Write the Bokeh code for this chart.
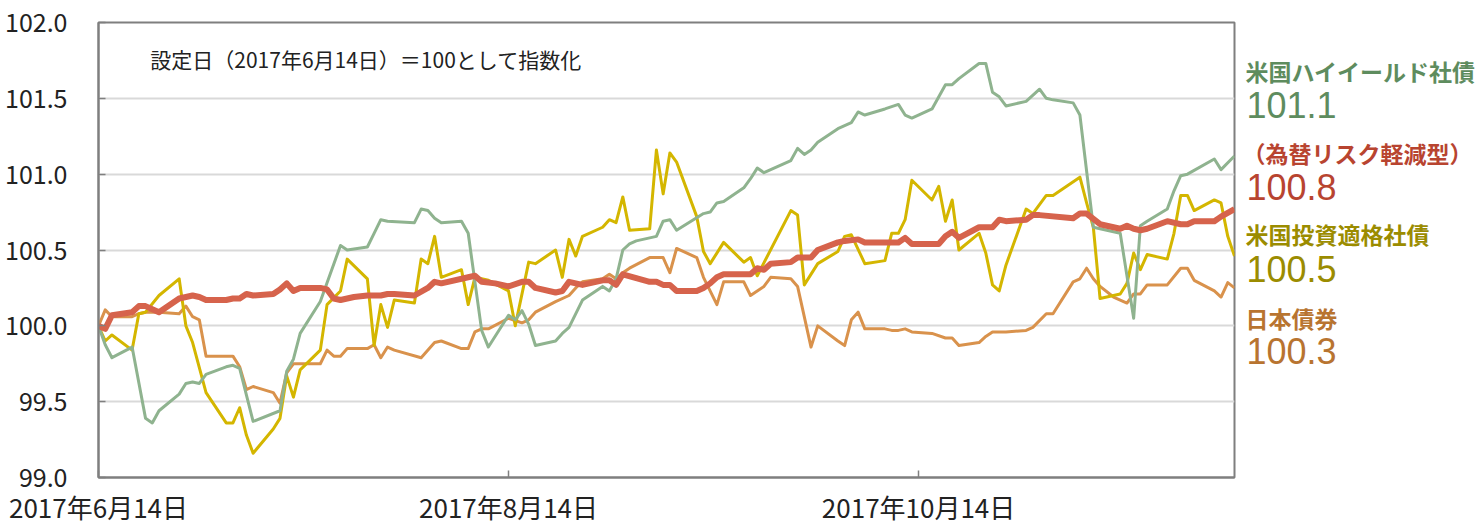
import pandas as pd
from bokeh.plotting import figure
from bokeh.layouts import row
from bokeh.models import Range1d, FixedTicker, CustomJSTickFormatter, PrintfTickFormatter, Label
from bokeh.embed import file_html
from bokeh.resources import INLINE

# ---------------- data ----------------
base_date = "2017-06-14"
end_date = "2017-11-30"

tick_dates = ["2017-06-14", "2017-08-14", "2017-10-14"]
tick_labels = ["2017年6月14日", "2017年8月14日", "2017年10月14日"]
y_ticks = [99.0, 99.5, 100.0, 100.5, 101.0, 101.5, 102.0]

series_names = ["米国ハイイールド社債", "（為替リスク軽減型）", "米国投資適格社債", "日本債券"]
series_last = ["101.1", "100.8", "100.5", "100.3"]
note_text = "設定日（2017年6月14日）＝100として指数化"

# 米国ハイイールド社債 (days since base date, index)
hy_days = [0, 1, 2, 5, 7, 8, 9, 12, 13, 14, 15, 16, 19, 20, 21, 23, 27, 28, 29, 30,
           33, 36, 37, 40, 41, 42, 43, 47, 48, 49, 50, 51, 54, 55, 57, 58, 61, 62, 63, 64,
           65, 68, 69, 70, 72, 75, 76, 77, 78, 79, 80, 83, 84, 85, 86, 90, 91, 92, 93, 96,
           97, 98, 99, 103, 104, 105, 106, 107, 110, 112, 113, 114, 117, 119, 120, 121, 124, 126, 127, 128,
           131, 132, 133, 134, 135, 138, 140, 141, 142, 145, 146, 148, 152, 154, 155, 156, 159, 160, 161, 162,
           166, 167, 169]
hy_vals = [100.0, 99.875, 99.79, 99.86, 99.39, 99.36, 99.44, 99.55, 99.62, 99.63, 99.62, 99.68, 99.73, 99.74, 99.72, 99.37, 99.44, 99.70, 99.78, 99.95,
           100.16, 100.53, 100.50, 100.52, 100.61, 100.70, 100.69, 100.68, 100.77, 100.76, 100.71, 100.68, 100.69, 100.61, 99.97, 99.86, 100.07, 100.04, 100.10, 100.01,
           99.87, 99.90, 99.95, 99.99, 100.17, 100.26, 100.23, 100.31, 100.50, 100.54, 100.56, 100.59, 100.69, 100.70, 100.63, 100.74, 100.75, 100.81, 100.82, 100.91,
           100.97, 101.04, 101.01, 101.09, 101.17, 101.13, 101.16, 101.21, 101.30, 101.34, 101.41, 101.39, 101.43, 101.46, 101.39, 101.37, 101.43, 101.59, 101.59, 101.63,
           101.73, 101.73, 101.54, 101.51, 101.45, 101.48, 101.56, 101.50, 101.49, 101.47, 101.39, 100.65, 100.61, 100.05, 100.66, 100.69, 100.77, 100.89, 100.99, 101.00,
           101.10, 101.03, 101.12]

# （為替リスク軽減型）
hedged_days = [0, 1, 2, 5, 6, 7, 8, 9, 12, 14, 15, 16, 19, 20, 21, 22, 23, 26, 27, 28,
               29, 30, 33, 34, 35, 36, 38, 40, 42, 43, 44, 47, 49, 50, 51, 55, 56, 57, 59, 61,
               63, 64, 65, 68, 69, 70, 72, 75, 76, 77, 78, 82, 83, 84, 85, 86, 89, 90, 91, 92,
               93, 97, 98, 99, 100, 103, 104, 106, 107, 110, 111, 113, 114, 119, 120, 121, 125, 126, 127, 128,
               131, 133, 134, 135, 138, 139, 140, 145, 146, 147, 149, 152, 153, 154, 155, 156, 159, 161, 162, 163,
               166, 167, 169]
hedged_vals = [100.0, 99.98, 100.07, 100.09, 100.13, 100.13, 100.11, 100.09, 100.18, 100.20, 100.19, 100.17, 100.17, 100.18, 100.18, 100.21, 100.20, 100.21, 100.24, 100.28,
               100.23, 100.25, 100.25, 100.24, 100.18, 100.17, 100.19, 100.20, 100.20, 100.21, 100.21, 100.20, 100.25, 100.29, 100.28, 100.32, 100.33, 100.29, 100.28, 100.26,
               100.29, 100.29, 100.25, 100.22, 100.23, 100.29, 100.27, 100.30, 100.30, 100.27, 100.34, 100.29, 100.29, 100.27, 100.27, 100.23, 100.23, 100.25, 100.28, 100.32,
               100.34, 100.34, 100.38, 100.37, 100.41, 100.42, 100.45, 100.45, 100.50, 100.55, 100.56, 100.57, 100.55, 100.55, 100.58, 100.54, 100.54, 100.59, 100.62, 100.58,
               100.65, 100.65, 100.70, 100.69, 100.70, 100.73, 100.73, 100.71, 100.74, 100.74, 100.67, 100.64, 100.66, 100.64, 100.63, 100.64, 100.69, 100.67, 100.67, 100.69,
               100.69, 100.72, 100.77]

# 米国投資適格社債
ig_days = [0, 1, 2, 5, 6, 7, 9, 12, 13, 14, 16, 19, 20, 21, 22, 23, 26, 27, 28, 29,
           30, 33, 34, 36, 37, 40, 41, 42, 43, 44, 47, 48, 49, 50, 51, 54, 55, 56, 58, 61,
           62, 64, 65, 68, 69, 70, 71, 72, 75, 76, 77, 78, 79, 82, 83, 84, 85, 86, 89, 90,
           91, 93, 96, 97, 98, 103, 104, 105, 107, 110, 111, 112, 114, 117, 118, 119, 120, 121, 124, 125,
           126, 127, 128, 131, 132, 133, 134, 135, 138, 139, 141, 142, 146, 147, 148, 149, 152, 153, 154, 155,
           156, 159, 160, 161, 162, 163, 166, 167, 168, 169]
ig_vals = [100.0, 99.90, 99.94, 99.84, 100.08, 100.09, 100.20, 100.31, 100.0, 99.89, 99.56, 99.36, 99.36, 99.46, 99.28, 99.16, 99.32, 99.39, 99.67, 99.53,
           99.71, 99.84, 100.14, 100.23, 100.44, 100.31, 99.87, 100.14, 99.99, 100.17, 100.15, 100.44, 100.41, 100.59, 100.32, 100.37, 100.14, 100.32, 100.30, 100.23,
           100.00, 100.42, 100.41, 100.50, 100.32, 100.57, 100.46, 100.59, 100.65, 100.70, 100.68, 100.85, 100.63, 100.64, 101.16, 100.87, 101.14, 101.08, 100.72, 100.49,
           100.41, 100.55, 100.42, 100.45, 100.33, 100.76, 100.73, 100.27, 100.41, 100.49, 100.59, 100.60, 100.41, 100.43, 100.61, 100.61, 100.70, 100.96, 100.83, 100.92,
           100.69, 100.83, 100.50, 100.61, 100.48, 100.27, 100.23, 100.40, 100.77, 100.74, 100.86, 100.86, 100.98, 100.81, 100.65, 100.18, 100.21, 100.28, 100.48, 100.37,
           100.47, 100.44, 100.61, 100.86, 100.86, 100.76, 100.83, 100.81, 100.59, 100.46]

# 日本債券
jp_days = [0, 1, 2, 5, 6, 7, 9, 12, 13, 14, 15, 16, 19, 20, 21, 22, 23, 26, 27, 28,
           29, 33, 34, 35, 36, 37, 40, 41, 42, 43, 44, 48, 50, 51, 54, 55, 56, 57, 58, 61,
           63, 64, 65, 68, 70, 71, 72, 75, 76, 77, 78, 79, 82, 84, 85, 86, 89, 90, 92, 93,
           96, 97, 99, 100, 103, 104, 106, 107, 110, 111, 112, 113, 114, 117, 118, 119, 120, 121, 124, 126,
           127, 128, 131, 132, 133, 135, 138, 139, 141, 142, 145, 146, 147, 148, 149, 151, 153, 154, 155, 156,
           159, 161, 162, 163, 166, 167, 168, 169]
jp_vals = [100.0, 100.105, 100.06, 100.06, 100.08, 100.09, 100.09, 100.08, 100.13, 100.06, 100.04, 99.80, 99.80, 99.80, 99.73, 99.58, 99.60, 99.56, 99.49, 99.69,
           99.75, 99.75, 99.84, 99.80, 99.80, 99.85, 99.85, 99.875, 99.79, 99.86, 99.84, 99.79, 99.89, 99.90, 99.85, 99.85, 99.96, 99.98, 99.98, 100.05,
           100.02, 100.04, 100.09, 100.16, 100.20, 100.25, 100.29, 100.31, 100.34, 100.31, 100.35, 100.38, 100.45, 100.45, 100.35, 100.51, 100.45, 100.32, 100.14, 100.29,
           100.29, 100.20, 100.26, 100.32, 100.31, 100.26, 99.86, 100.00, 99.90, 99.87, 100.04, 100.09, 99.98, 99.98, 99.97, 99.97, 99.98, 99.96, 99.95, 99.92,
           99.92, 99.87, 99.89, 99.93, 99.96, 99.96, 99.97, 99.99, 100.08, 100.08, 100.29, 100.31, 100.38, 100.31, 100.26, 100.19, 100.15, 100.21, 100.21, 100.27,
           100.27, 100.38, 100.38, 100.30, 100.23, 100.19, 100.285, 100.25]

# ---------------- styles ----------------
line_colors = ["#8fb38f", "#d6634c", "#d4b600", "#d9924c"]
label_colors = ["#5e8c5e", "#b84430", "#9b8c00", "#b87430"]
FONT_JP = "Noto Sans CJK JP"
FONT_NUM = "Liberation Sans"

H = 527
TOP = 22
BOTTOM = 49

base = pd.Timestamp(base_date)


def to_dates(days):
    return base + pd.to_timedelta(days, unit="D")


def to_ms(ts):
    return ts.value / 1e6


p = figure(width=1236, height=H, output_backend="svg", toolbar_location=None,
           x_axis_type="datetime",
           x_range=Range1d(base, pd.Timestamp(end_date)),
           y_range=Range1d(99.0, 102.0),
           min_border_left=98, min_border_right=2, min_border_top=TOP, min_border_bottom=BOTTOM)
p.background_fill_color = "white"
p.border_fill_color = "white"
p.outline_line_color = "#7f7f7f"
p.outline_line_width = 2

# grid
p.xgrid.grid_line_color = None
p.ygrid.grid_line_color = "#d9d9d9"
p.ygrid.grid_line_width = 2

# axes
tick_ms = [to_ms(pd.Timestamp(d)) for d in tick_dates]
p.xaxis.ticker = FixedTicker(ticks=tick_ms)
p.xaxis.formatter = CustomJSTickFormatter(
    args=dict(tv=tick_ms, tl=tick_labels),
    code="for (let i = 0; i < tv.length; i++) { if (Math.abs(tv[i] - tick) < 1) { return tl[i]; } } return '';")
p.yaxis.ticker = FixedTicker(ticks=y_ticks)
p.yaxis.formatter = PrintfTickFormatter(format="%.1f")

for ax in (p.xaxis[0], p.yaxis[0]):
    ax.axis_line_color = "#7f7f7f"
    ax.axis_line_width = 2
    ax.major_tick_in = 7
    ax.major_tick_out = 0
    ax.major_tick_line_color = "#7f7f7f"
    ax.major_tick_line_width = 1.5
    ax.minor_tick_line_color = None
    ax.major_label_text_font = FONT_JP
    ax.major_label_text_color = "#222222"

p.xaxis.major_label_text_font_size = "26px"
p.xaxis.major_label_standoff = 10
p.yaxis.major_label_text_font_size = "25px"
p.yaxis.major_label_standoff = 31

# lines (drawn bottom to top)
p.line(to_dates(jp_days), jp_vals, line_color=line_colors[3], line_width=3, line_join="round")
p.line(to_dates(ig_days), ig_vals, line_color=line_colors[2], line_width=3, line_join="round")
p.line(to_dates(hy_days), hy_vals, line_color=line_colors[0], line_width=3, line_join="round")
p.line(to_dates(hedged_days), hedged_vals, line_color=line_colors[1], line_width=6, line_join="round")

# note
p.add_layout(Label(x=to_ms(base + pd.Timedelta(days=7.7)), y=101.76, text=note_text,
                   text_font=FONT_JP, text_font_size="21px", text_color="#222222",
                   text_baseline="middle", text_align="left"))

# ---------------- right-side label panel ----------------
SIDE_W = 245
s = figure(width=SIDE_W, height=H, output_backend="svg", toolbar_location=None,
           x_range=Range1d(0, SIDE_W), y_range=Range1d(99.0, 102.0),
           x_axis_location=None, y_axis_location=None,
           min_border_left=0, min_border_right=0, min_border_top=TOP, min_border_bottom=BOTTOM)
s.outline_line_color = None
s.grid.grid_line_color = None
s.background_fill_color = "white"
s.border_fill_color = "white"

name_y = [101.678, 101.138, 100.605, 100.053]
num_y = [101.454, 100.914, 100.375, 99.836]
for i in range(4):
    s.add_layout(Label(x=9 if i != 1 else 6, y=name_y[i], text=series_names[i],
                       text_font=FONT_JP, text_font_size="23px", text_font_style="bold",
                       text_color=label_colors[i], text_baseline="middle", text_align="left"))
    s.add_layout(Label(x=10, y=num_y[i], text=series_last[i],
                       text_font=FONT_NUM, text_font_size="36px",
                       text_color=label_colors[i], text_baseline="middle", text_align="left"))

layout = row(p, s)
open("out.html", "w").write(file_html(layout, INLINE))
